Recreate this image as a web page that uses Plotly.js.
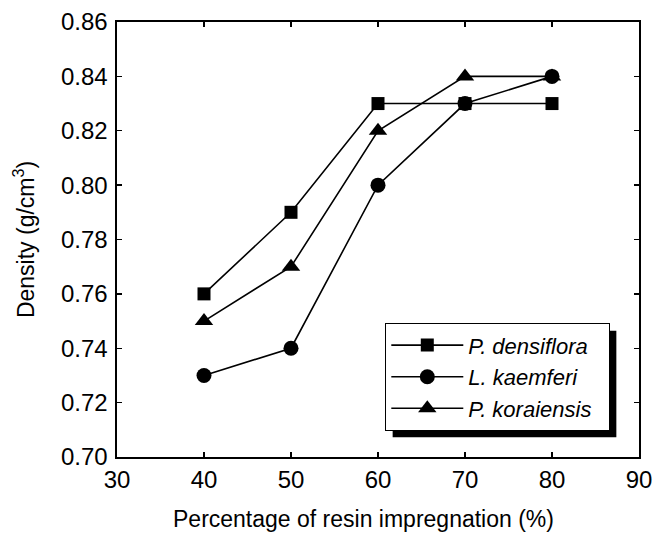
<!DOCTYPE html>
<html>
<head>
<meta charset="utf-8">
<script src="https://cdn.plot.ly/plotly-3.0.1.min.js"></script>
<style>
  html, body { margin: 0; padding: 0; background: #fff; }
  #chart { width: 653px; height: 533px; }
</style>
</head>
<body>
<div id="chart"></div>
<script>
// Resin impregnation level (%)
const resinPercent = [40, 50, 60, 70, 80];

// Density (g/cm3) for each species
const densityDensiflora = [0.76, 0.79, 0.83, 0.83, 0.83];
const densityKaemferi   = [0.73, 0.74, 0.80, 0.83, 0.84];
const densityKoraiensis = [0.75, 0.77, 0.82, 0.84, 0.84];

const speciesNames = ['P. densiflora', 'L. kaemferi', 'P. koraiensis'];

const xTicks = [30, 40, 50, 60, 70, 80, 90];
const yTicks = [0.70, 0.72, 0.74, 0.76, 0.78, 0.80, 0.82, 0.84, 0.86];

const FONT = 'Liberation Sans, Arial, sans-serif';
const lineStyle = { color: '#000', width: 1.6 };

function series(name, y, symbol, size) {
  return {
    type: 'scatter',
    mode: 'lines+markers',
    name: '<i>' + name + '</i>&nbsp;&nbsp;',
    x: resinPercent,
    y: y,
    line: lineStyle,
    marker: { symbol: symbol, size: size, color: '#000' },
    cliponaxis: false
  };
}

const traces = [
  series(speciesNames[0], densityDensiflora, 'square', 13),
  series(speciesNames[1], densityKaemferi, 'circle', 15),
  series(speciesNames[2], densityKoraiensis, 'triangle-up', 16)
];

const axisCommon = {
  showline: true,
  linecolor: '#000',
  linewidth: 1.6,
  mirror: 'ticks',
  ticks: 'inside',
  ticklen: 5,
  tickwidth: 1.3,
  tickcolor: '#000',
  showgrid: false,
  zeroline: false,
  tickfont: { family: FONT, size: 24, color: '#000' }
};

const layout = {
  width: 653,
  height: 533,
  margin: { l: 117, r: 14, t: 22, b: 76 },
  paper_bgcolor: '#fff',
  plot_bgcolor: '#fff',
  showlegend: true,
  xaxis: Object.assign({}, axisCommon, {
    range: [30, 90],
    tickvals: xTicks,
    ticktext: xTicks.map(String),
    ticklabelstandoff: 1
  }),
  yaxis: Object.assign({}, axisCommon, {
    range: [0.70, 0.86],
    tickvals: yTicks,
    ticktext: yTicks.map(v => v.toFixed(2)),
    ticklabelstandoff: 3,
    title: {
      text: 'Density (g/cm<sup>3</sup>)',
      font: { family: FONT, size: 23, color: '#000' },
      standoff: 20
    }
  }),
  annotations: [
    {
      text: 'Percentage of resin impregnation (%)',
      xref: 'paper', yref: 'paper',
      x: (363 - 117) / 522, y: (457 - 519) / 435,
      xanchor: 'center', yanchor: 'middle',
      showarrow: false,
      font: { family: FONT, size: 23, color: '#000' }
    }
  ],
  legend: {
    x: (385 - 117) / 522,
    y: (457 - 323) / 435,
    xanchor: 'left',
    yanchor: 'top',
    bgcolor: '#fff',
    bordercolor: '#000',
    borderwidth: 1.3,
    itemwidth: 72,
    font: { family: FONT, size: 22, color: '#000' }
  }
};

Plotly.newPlot('chart', traces, layout, { displayModeBar: false, staticPlot: true }).then(gd => {
  // Drop shadow offset down-right from the rendered legend box
  const bg = gd.querySelector('.legend .bg');
  if (!bg) return;
  const box = bg.getBoundingClientRect();
  const root = gd.getBoundingClientRect();
  const fs = gd._fullLayout._size;
  const off = 7;
  const toPx = px => (px - fs.l) / fs.w;
  const toPy = py => (fs.t + fs.h - py) / fs.h;
  const left = box.left - root.left + off;
  const right = box.right - root.left + off;
  const top = box.top - root.top + off;
  const bottom = box.bottom - root.top + off;
  Plotly.relayout(gd, {
    shapes: [{
      type: 'rect', xref: 'paper', yref: 'paper', layer: 'above',
      x0: toPx(left), x1: toPx(right),
      y0: toPy(bottom), y1: toPy(top),
      fillcolor: '#000', line: { width: 0 }
    }]
  });
});
</script>
</body>
</html>
